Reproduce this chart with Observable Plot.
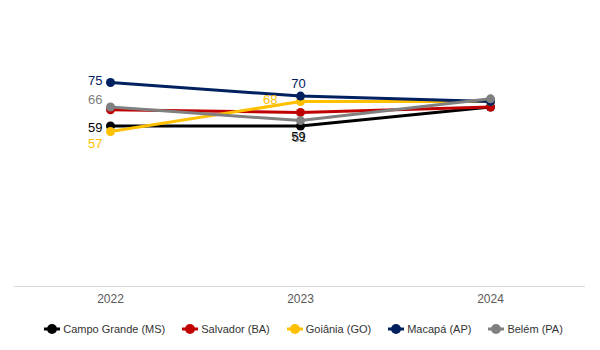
<!DOCTYPE html>
<html>
<head>
<meta charset="utf-8">
<script src="https://cdn.jsdelivr.net/npm/d3@7"></script>
<script src="https://cdn.jsdelivr.net/npm/@observablehq/plot@0.6"></script>
<style>
  body { margin: 0; background: #fff; font-family: "Liberation Sans", Arial, sans-serif; }
  #chart { width: 600px; }
  .legend { display: flex; justify-content: center; gap: 16px; font-size: 11px; color: #333; margin-top: 9px; line-height: 20px; padding-left: 6px; }
  .legend span { display: inline-flex; align-items: center; gap: 2px; }
</style>
</head>
<body>
<div id="chart"></div>
<script>
const years = ["2022", "2023", "2024"];
const seriesNames = ["Campo Grande (MS)", "Salvador (BA)", "Goiânia (GO)", "Macapá (AP)", "Belém (PA)"];
const seriesColors = ["#000000", "#C00000", "#FFC000", "#002060", "#808080"];
const campoGrande = [59, 59, 66];
const salvador = [65, 64, 66];
const goiania = [57, 68, 68];
const macapa = [75, 70, 68];
const belem = [66, 61, 69];
const allValues = [campoGrande, salvador, goiania, macapa, belem];

const data = [];
seriesNames.forEach((s, i) => years.forEach((y, j) => data.push({series: s, year: y, value: allValues[i][j]})));
const colorOf = Object.fromEntries(seriesNames.map((s, i) => [s, seriesColors[i]]));
const pick = (s, y) => data.filter(d => d.series === s && d.year === y);

const labelFont = {fontSize: 13, fontFamily: "Liberation Sans, Arial, sans-serif"};
const lbl = (s, y, opts) => Plot.text(pick(s, y), {x: "year", y: "value", text: d => String(d.value), fill: colorOf[s], ...labelFont, ...opts});

const chart = Plot.plot({
  width: 600,
  height: 310,
  marginLeft: 14,
  marginRight: 15,
  marginTop: 14,
  marginBottom: 24,
  style: {fontFamily: "Liberation Sans, Arial, sans-serif", background: "#fff"},
  x: {type: "point", domain: years, padding: 0.5, label: null, tickSize: 0, tickPadding: 8},
  y: {domain: [0, 100], axis: null},
  color: {domain: seriesNames, range: seriesColors},
  marks: [
    Plot.ruleY([0], {stroke: "#d9d9d9", strokeWidth: 1}),
    Plot.axisX({tickSize: 0, tickPadding: 8, fontSize: 12, color: "#595959", label: null}),
    Plot.line(data, {x: "year", y: "value", z: "series", stroke: "series", strokeWidth: 3, curve: "linear"}),
    Plot.dot(data, {x: "year", y: "value", fill: "series", r: 4.5}),
    lbl("Macapá (AP)", "2022", {textAnchor: "end", dx: -8, dy: -2}),
    lbl("Belém (PA)", "2022", {textAnchor: "end", dx: -8, dy: -7}),
    lbl("Campo Grande (MS)", "2022", {textAnchor: "end", dx: -8, dy: 2}),
    lbl("Goiânia (GO)", "2022", {textAnchor: "end", dx: -8, dy: 12}),
    lbl("Macapá (AP)", "2023", {dx: -2, dy: -12}),
    lbl("Goiânia (GO)", "2023", {textAnchor: "end", dx: -23, dy: -2}),
    lbl("Belém (PA)", "2023", {dx: -1, dy: 17}),
    lbl("Campo Grande (MS)", "2023", {dx: -2, dy: 11})
  ]
});
document.getElementById("chart").appendChild(chart);

const legend = document.createElement("div");
legend.className = "legend";
seriesNames.forEach((s, i) => {
  const item = document.createElement("span");
  item.innerHTML = `<svg width="18" height="12"><line x1="1" y1="6" x2="17" y2="6" stroke="${seriesColors[i]}" stroke-width="3"/><circle cx="9" cy="6" r="5" fill="${seriesColors[i]}"/></svg>${s}`;
  legend.appendChild(item);
});
document.getElementById("chart").appendChild(legend);
</script>
</body>
</html>
